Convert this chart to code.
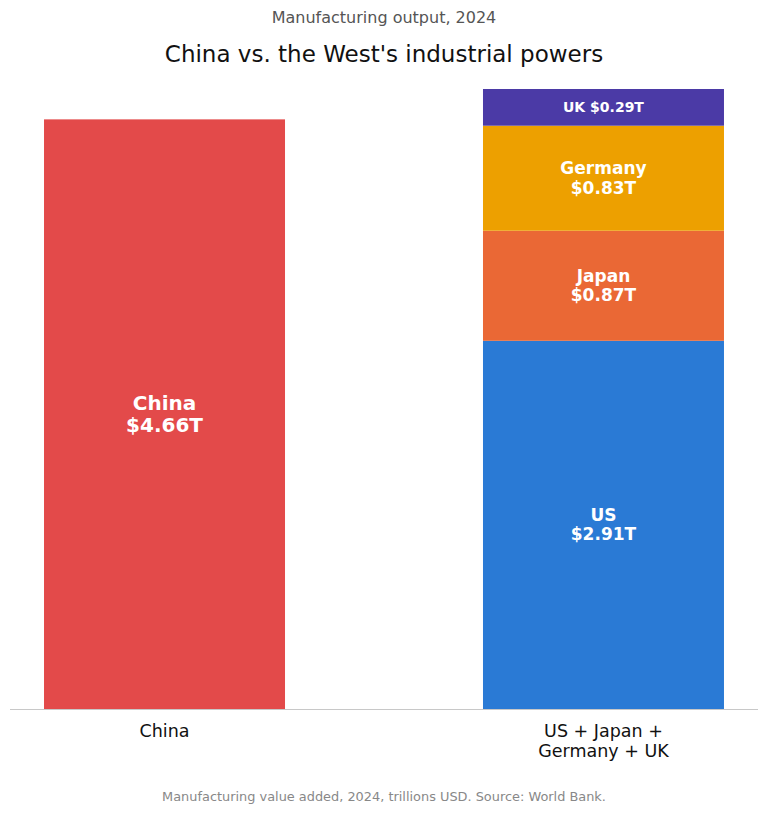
<!DOCTYPE html>
<html>
<head>
<meta charset="utf-8">
<script src="https://cdn.jsdelivr.net/npm/d3@7"></script>
<style>
  body { margin: 0; background: #fff; }
  text { font-family: "DejaVu Sans", sans-serif; }
</style>
</head>
<body>
<div id="chart"></div>
<script>
const groups = ["China", "US + Japan + Germany + UK"]
const groupLines = [["China"], ["US + Japan +", "Germany + UK"]]
const chinaValue = 4.66
const westKeys = ["US", "Japan", "Germany", "UK"]
const westValues = [2.91, 0.87, 0.83, 0.29]
const colors = { China: "#e34a4a", US: "#2a7ad5", Japan: "#ea6835", Germany: "#eda000", UK: "#4b3aa6" }

function draw() {
  const dimensions = { width: 768, height: 813, baseline: 709, top: 89 }

  const svg = d3
    .select("#chart")
    .append("svg")
    .attr("width", dimensions.width)
    .attr("height", dimensions.height)

  const westRow = {}
  westKeys.forEach((k, i) => (westRow[k] = westValues[i]))
  const stacked = d3.stack().keys(westKeys)([westRow])

  const xScale = d3
    .scaleBand()
    .domain(groups)
    .range([10, 758])
    .paddingInner(0.451)
    .paddingOuter(0.0775)

  const yScale = d3
    .scaleLinear()
    .domain([0, d3.sum(westValues)])
    .range([dimensions.baseline, dimensions.top])

  // China bar
  svg
    .append("rect")
    .attr("x", xScale(groups[0]))
    .attr("y", yScale(chinaValue))
    .attr("width", xScale.bandwidth())
    .attr("height", yScale(0) - yScale(chinaValue))
    .attr("fill", colors.China)

  const chinaMid = (yScale(0) + yScale(chinaValue)) / 2
  const chinaLabel = svg
    .append("text")
    .attr("x", xScale(groups[0]) + xScale.bandwidth() / 2)
    .attr("y", chinaMid)
    .attr("text-anchor", "middle")
    .attr("fill", "#fff")
    .attr("font-weight", "bold")
    .attr("font-size", 20)
  chinaLabel.append("tspan").attr("x", xScale(groups[0]) + xScale.bandwidth() / 2).attr("dy", "-0.2em").text("China")
  chinaLabel.append("tspan").attr("x", xScale(groups[0]) + xScale.bandwidth() / 2).attr("dy", "1.1em").text("$" + chinaValue.toFixed(2) + "T")

  // stacked bar
  const cx = xScale(groups[1]) + xScale.bandwidth() / 2
  const layers = svg.append("g").selectAll("g").data(stacked).join("g")

  layers
    .append("rect")
    .attr("x", xScale(groups[1]))
    .attr("y", d => yScale(d[0][1]))
    .attr("width", xScale.bandwidth())
    .attr("height", d => yScale(d[0][0]) - yScale(d[0][1]))
    .attr("fill", d => colors[d.key])

  layers.each(function (d) {
    const mid = (yScale(d[0][0]) + yScale(d[0][1])) / 2
    const value = "$" + (d[0][1] - d[0][0]).toFixed(2) + "T"
    const t = d3
      .select(this)
      .append("text")
      .attr("x", cx)
      .attr("y", mid)
      .attr("text-anchor", "middle")
      .attr("fill", "#fff")
      .attr("font-weight", "bold")
    if (d.key === "UK") {
      t.attr("font-size", 14).attr("dy", "0.35em").text(d.key + " " + value)
    } else {
      t.attr("font-size", 17)
      t.append("tspan").attr("x", cx).attr("dy", "-0.25em").text(d.key)
      t.append("tspan").attr("x", cx).attr("dy", "1.15em").text(value)
    }
  })

  // baseline
  svg
    .append("line")
    .attr("x1", 10)
    .attr("x2", 758)
    .attr("y1", dimensions.baseline + 0.5)
    .attr("y2", dimensions.baseline + 0.5)
    .attr("stroke", "#c8c8c8")
    .attr("stroke-width", 1)

  // category labels
  groups.forEach((g, i) => {
    const t = svg
      .append("text")
      .attr("x", xScale(g) + xScale.bandwidth() / 2)
      .attr("y", 737)
      .attr("text-anchor", "middle")
      .attr("font-size", 17.5)
      .attr("fill", "#111")
    groupLines[i].forEach((line, j) => {
      t.append("tspan")
        .attr("x", xScale(g) + xScale.bandwidth() / 2)
        .attr("dy", j === 0 ? 0 : "1.12em")
        .text(line)
    })
  })

  // titles
  svg
    .append("text")
    .attr("x", dimensions.width / 2)
    .attr("y", 22.5)
    .attr("text-anchor", "middle")
    .attr("font-size", 16)
    .attr("fill", "#555")
    .text("Manufacturing output, 2024")

  svg
    .append("text")
    .attr("x", dimensions.width / 2)
    .attr("y", 62)
    .attr("text-anchor", "middle")
    .attr("font-size", 23)
    .attr("fill", "#111")
    .text("China vs. the West's industrial powers")

  svg
    .append("text")
    .attr("x", dimensions.width / 2)
    .attr("y", 801)
    .attr("text-anchor", "middle")
    .attr("font-size", 12.9)
    .attr("fill", "#888")
    .text("Manufacturing value added, 2024, trillions USD. Source: World Bank.")
}

draw()
</script>
</body>
</html>
